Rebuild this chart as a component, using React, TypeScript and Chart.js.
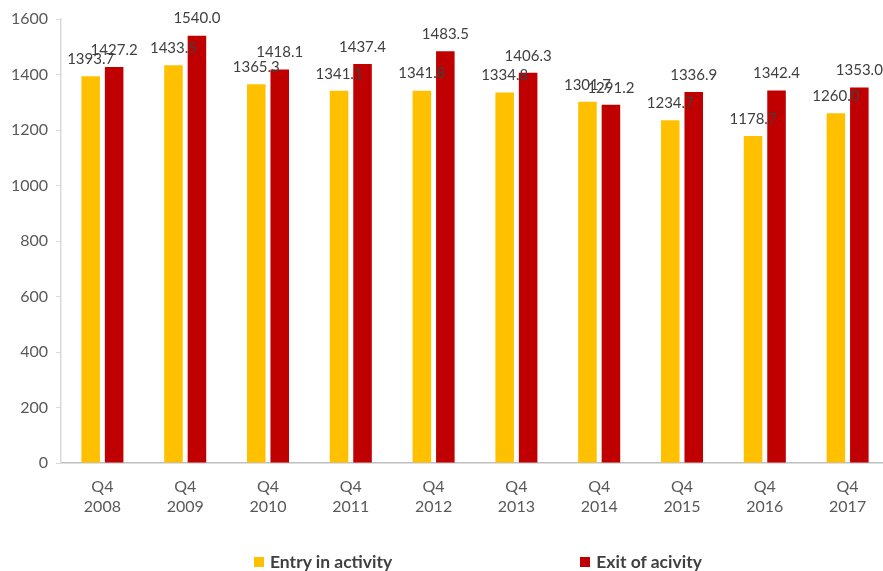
import React, { useEffect, useRef } from "react";
import { Chart, registerables } from "chart.js";

Chart.register(...registerables);

const categories: string[][] = [
  ["Q4", "2008"], ["Q4", "2009"], ["Q4", "2010"], ["Q4", "2011"], ["Q4", "2012"],
  ["Q4", "2013"], ["Q4", "2014"], ["Q4", "2015"], ["Q4", "2016"], ["Q4", "2017"],
];
const entryValues = [1393.7, 1433.5, 1365.3, 1341.1, 1341.8, 1334.8, 1301.7, 1234.7, 1178.7, 1260.0];
const exitValues = [1427.2, 1540.0, 1418.1, 1437.4, 1483.5, 1406.3, 1291.2, 1336.9, 1342.4, 1353.0];
const seriesNames = ["Entry in activity", "Exit of acivity"];
const seriesColors = ["#FFC000", "#C00000"];
const yMin = 0;
const yMax = 1600;
const yStep = 200;

const FONT = "Lato, 'Open Sans', sans-serif";

const valueLabels = {
  id: "valueLabels",
  afterDatasetsDraw(chart: any) {
    const ctx = chart.ctx;
    ctx.save();
    ctx.font = `15px ${FONT}`;
    ctx.fillStyle = "#404040";
    ctx.textAlign = "center";
    ctx.textBaseline = "middle";
    chart.data.datasets.forEach((ds: any, di: number) => {
      const meta = chart.getDatasetMeta(di);
      meta.data.forEach((bar: any, i: number) => {
        ctx.fillText(Number(ds.data[i]).toFixed(1), bar.x, bar.y - 17);
      });
    });
    ctx.restore();
  },
};

export default function App() {
  const ref = useRef<HTMLCanvasElement | null>(null);

  useEffect(() => {
    if (!ref.current) return;
    const chart = new Chart(ref.current, {
      type: "bar",
      data: {
        labels: categories,
        datasets: [
          { label: seriesNames[0], data: entryValues, backgroundColor: seriesColors[0] },
          { label: seriesNames[1], data: exitValues, backgroundColor: seriesColors[1] },
        ],
      },
      options: {
        responsive: false,
        animation: false,
        events: [],
        layout: { padding: { top: 19, right: 6, left: 0, bottom: 0 } },
        datasets: { bar: { categoryPercentage: 0.567, barPercentage: 0.79 } } as any,
        plugins: {
          legend: { display: false },
          tooltip: { enabled: false },
        },
        scales: {
          x: {
            grid: { display: false, drawTicks: false },
            border: { display: true, color: "#bfbfbf", width: 1.5 },
            ticks: {
              color: "#595959",
              font: { family: FONT, size: 16, lineHeight: 1.25 },
              padding: 14,
              maxRotation: 0,
              autoSkip: false,
            },
            afterFit: (s: any) => { s.height = 108; },
          },
          y: {
            min: yMin,
            max: yMax,
            ticks: {
              stepSize: yStep,
              color: "#595959",
              font: { family: FONT, size: 16 },
              padding: 8,
              callback: (v: any) => String(v),
            },
            grid: { drawOnChartArea: false, drawTicks: true, tickLength: 5, color: "#d9d9d9" },
            border: { display: true, color: "#d9d9d9", width: 1.5 },
            afterFit: (s: any) => { s.width = 61; },
          },
        },
      },
      plugins: [valueLabels],
    });
    return () => chart.destroy();
  }, []);

  return (
    <div style={{ position: "fixed", left: 0, top: 0, width: 883, height: 571, overflow: "hidden", background: "#fff" }}>
      <canvas ref={ref} width={895} height={571} style={{ display: "block" }} />
      <div
        style={{
          position: "absolute",
          left: 254,
          top: 551,
          display: "flex",
          alignItems: "center",
          gap: 188,
          fontFamily: FONT,
          fontWeight: 700,
          fontSize: 17.5,
          color: "#404040",
          lineHeight: "22px",
          whiteSpace: "nowrap",
        }}
      >
        {seriesNames.map((name, i) => (
          <div key={name} style={{ display: "flex", alignItems: "center" }}>
            <span style={{ display: "inline-block", width: 10, height: 10, background: seriesColors[i], marginRight: 6 }} />
            <span>{name}</span>
          </div>
        ))}
      </div>
    </div>
  );
}
